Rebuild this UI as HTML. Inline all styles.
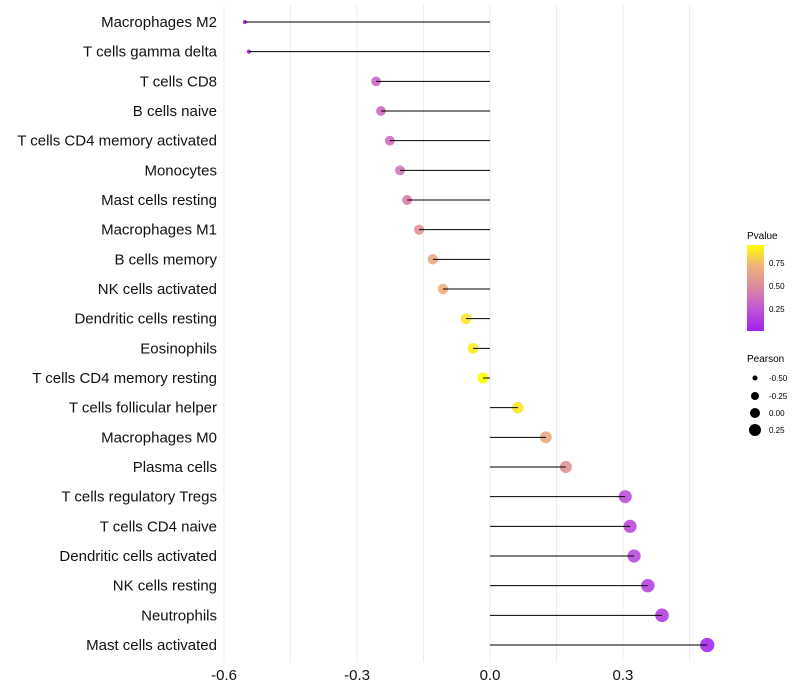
<!DOCTYPE html>
<html><head><meta charset="utf-8"><style>
body{margin:0;background:#fff;}
svg{display:block;font-family:"Liberation Sans",sans-serif;}
</style></head><body>
<svg id="chart" width="800" height="700">
<defs><linearGradient id="pg" x1="0" y1="1" x2="0" y2="0">
<stop offset="0" stop-color="#a020f0"/><stop offset="0.26" stop-color="#c255d6"/><stop offset="0.51" stop-color="#dc8aa0"/><stop offset="0.77" stop-color="#f0b478"/><stop offset="1" stop-color="#ffff00"/></linearGradient></defs>
<g id="grid"></g>
<g id="marks"></g>
<g id="ylabels"></g>
<g id="xlabels"></g>
<g>
<text x="747" y="239" font-size="10" fill="#000">Pvalue</text>
<rect x="747" y="245" width="17" height="86" fill="url(#pg)"/>
<text x="769" y="266" font-size="8">0.75</text>
<text x="769" y="289" font-size="8">0.50</text>
<text x="769" y="312" font-size="8">0.25</text>
</g>
<g id="sizeleg">
<text x="747" y="362" font-size="10" fill="#000">Pearson</text>
</g>
</svg>
<script>
const categories=["Macrophages M2","T cells gamma delta","T cells CD8","B cells naive","T cells CD4 memory activated","Monocytes","Mast cells resting","Macrophages M1","B cells memory","NK cells activated","Dendritic cells resting","Eosinophils","T cells CD4 memory resting","T cells follicular helper","Macrophages M0","Plasma cells","T cells regulatory  Tregs","T cells CD4 naive","Dendritic cells activated","NK cells resting","Neutrophils","Mast cells activated"];
const pearson=[-0.553,-0.544,-0.257,-0.246,-0.226,-0.203,-0.187,-0.160,-0.129,-0.106,-0.054,-0.038,-0.016,0.063,0.126,0.171,0.305,0.316,0.325,0.356,0.388,0.490];
const pvalues=[0.01,0.01,0.33,0.35,0.37,0.4,0.45,0.55,0.68,0.72,0.88,0.9,0.95,0.88,0.68,0.55,0.22,0.2,0.2,0.17,0.15,0.05];
const xTicks=[-0.6,-0.3,0.0,0.3];
const xTickLabels=["-0.6","-0.3","0.0","0.3"];
const legendSizes=[-0.5,-0.25,0,0.25];
const legendSizeLabels=["-0.50","-0.25","0.00","0.25"];
const NS="http://www.w3.org/2000/svg";
const xs=v=>490+v*443.3;
const ys=i=>22+i*29.667;
const rk=[[-0.56,2],[-0.26,4.8],[0,5.5],[0.5,7.2]];
function rs(v){if(v<=rk[0][0])return rk[0][1];for(let i=0;i<rk.length-1;i++){const a=rk[i],b=rk[i+1];if(v<=b[0])return a[1]+(b[1]-a[1])*(v-a[0])/(b[0]-a[0]);}return rk[rk.length-1][1];}
function hex(h){return [1,3,5].map(i=>parseInt(h.substr(i,2),16));}
const stops=[[0.01,"#a020f0"],[0.25,"#c255d6"],[0.5,"#dc8aa0"],[0.75,"#f0b478"],[0.95,"#ffff00"]];
function col(p){p=Math.max(0.01,Math.min(0.95,p));for(let i=0;i<stops.length-1;i++){const a=stops[i],b=stops[i+1];if(p<=b[0]){const t=(p-a[0])/(b[0]-a[0]);const c1=hex(a[1]),c2=hex(b[1]);return "rgb("+c1.map((c,k)=>Math.round(c+(c2[k]-c)*t)).join(",")+")";}}return "#ffff00";}
function mk(tag,attrs,parent){const e=document.createElementNS(NS,tag);for(const k in attrs)e.setAttribute(k,attrs[k]);parent.appendChild(e);return e;}
const grid=document.getElementById('grid');
for(let v=-0.6;v<=0.46;v+=0.15){const g=mk('line',{x1:xs(v),x2:xs(v),y1:5,y2:662,stroke:'#ededed','stroke-width':1},grid);

}
const marks=document.getElementById('marks'),yl=document.getElementById('ylabels');
categories.forEach((c,i)=>{
const y=ys(i);
const d=mk('circle',{cx:xs(pearson[i]),cy:y,r:rs(pearson[i]),fill:col(pvalues[i]),'fill-opacity':0.9},marks);


const l=mk('line',{x1:xs(0),x2:xs(pearson[i]),y1:y,y2:y,stroke:'#000','stroke-width':1},marks);


const t=mk('text',{x:217,y:y+5,'text-anchor':'end','font-size':15,fill:'#111'},yl);
t.textContent=c;


});
const xl=document.getElementById('xlabels');
xTicks.forEach((v,i)=>{const t=mk('text',{x:xs(v),y:680,'text-anchor':'middle','font-size':15,fill:'#111'},xl);
t.textContent=xTickLabels[i];

});
const sl=document.getElementById('sizeleg');
const legR=[2.5,4,5,6];
legendSizes.forEach((v,i)=>{const y=[378,396,413,430][i];
const c=mk('circle',{cx:755,cy:y,r:legR[i],fill:'#000'},sl);


const t=mk('text',{x:769,y:y+3,'font-size':8},sl);t.textContent=legendSizeLabels[i];

});
</script>
</body></html>
